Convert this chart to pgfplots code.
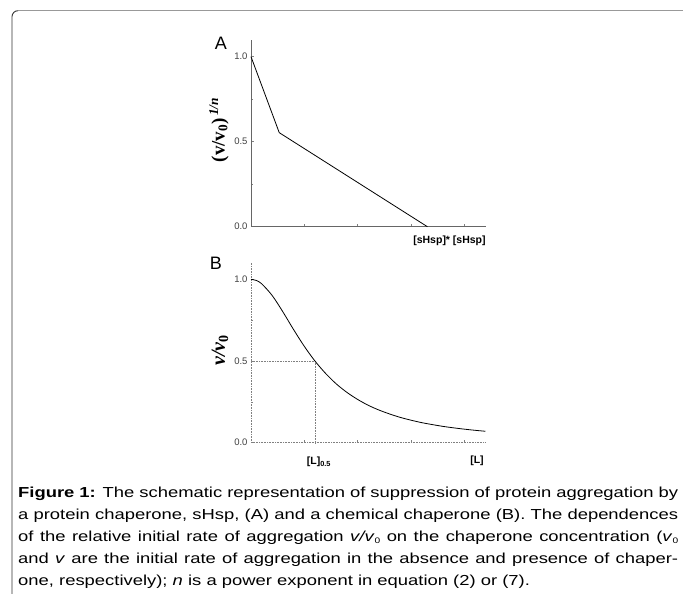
\documentclass[border=0pt]{standalone}
\usepackage{pgfplots}
\pgfplotsset{compat=1.18}
\usepackage{fontspec}
\setmainfont{Liberation Sans}
\newfontfamily\serifbf{Liberation Serif}
\newcommand\capline[1]{\scalebox{1.27}[1]{\makebox[519.7pt][s]{#1}}}
\newcommand\capfont{\fontsize{14.5}{14.5}\selectfont}
\newcommand\capsub[1]{\raisebox{-0.3ex}{\fontsize{8}{8}\selectfont #1}}

\pgfplotsset{panel/.style={
    anchor=south west, scale only axis, width=235pt,
    xmin=0, xmax=4.41, ymin=0, clip=false,
    axis lines=left,
    xtick={1,2,3,4}, xticklabels={},
    ytick={0,0.5,1}, minor ytick={0.25,0.75},
    yticklabel style={font=\fontsize{9.5}{9.5}\selectfont, text=black!75,
      /pgf/number format/fixed, /pgf/number format/precision=1,
      /pgf/number format/fixed zerofill, /pgf/number format/assume math mode=true},
    tick style={gray, line width=0.4pt}, tick align=inside,
    major tick length=3pt, minor tick length=2pt}}

\begin{document}
\begin{tikzpicture}[x=1pt,y=1pt]
\path[use as bounding box, fill=white] (0,0) rectangle (683,594);
\draw[gray!80, line width=1.4pt] (18,583.3) -- (683,583.3);
\draw[black!80, line width=0.9pt] (18,583.3) arc[start angle=90, end angle=180, radius=6] -- (12,0);

% panel A
\begin{axis}[panel, at={(251pt,367.3pt)}, height=186.7pt, ymax=1.098,
    axis line style={-, gray!80!black, line width=0.6pt}]
  \addplot[black, line width=0.8pt] coordinates {(0,1) (0.53,0.553) (3.31,0)};
\end{axis}
\node[font=\fontsize{18}{18}\selectfont] at (221,551) {A};
\node[rotate=90] at (219,464) {\serifbf\bfseries\fontsize{19}{19}\selectfont (v/v\textsubscript{0})\textsuperscript{\,\textit{1/n}}};
\node[font=\bfseries\fontsize{10.5}{10.5}\selectfont] at (449.5,353) {[sHsp]* [sHsp]};

% panel B
\begin{axis}[panel, at={(251pt,151.3pt)}, height=179.7pt, ymax=1.10,
    axis line style={-, gray, densely dotted, line width=0.6pt}]
  \addplot[gray, densely dotted, line width=0.6pt] coordinates {(0,0.5) (1.2,0.5) (1.2,0)};
  \addplot[black, line width=0.8pt, smooth] coordinates {
    (0,1) (0.1,0.993) (0.2,0.973) (0.4,0.9) (0.6,0.8) (0.8,0.692) (1.0,0.59)
    (1.2,0.5) (1.4,0.424) (1.6,0.36) (1.8,0.308) (2.0,0.265) (2.2,0.229)
    (2.4,0.2) (2.6,0.176) (2.8,0.155) (3.0,0.138) (3.2,0.123) (3.4,0.111)
    (3.6,0.1) (3.8,0.091) (4.0,0.083) (4.2,0.076) (4.4,0.07)};
\end{axis}
\node[font=\fontsize{18}{18}\selectfont] at (216,331) {B};
\node[rotate=90] at (220,244) {\serifbf\bfseries\fontsize{20}{20}\selectfont \textit{v/v}\textsubscript{0}};
\node[font=\bfseries\fontsize{10.5}{10.5}\selectfont] at (319,132) {[L]\textsubscript{0.5}};
\node[font=\bfseries\fontsize{10.5}{10.5}\selectfont] at (477,133) {[L]};

% caption
\begin{scope}[every node/.style={anchor=base west, inner sep=0pt, font=\capfont}]
\node at (18,96.7) {\capline{\textbf{Figure 1:} The schematic representation of suppression of protein aggregation by}};
\node at (18,74.5) {\capline{a protein chaperone, sHsp, (A) and a chemical chaperone (B). The dependences}};
\node at (18,52.3) {\capline{of the relative initial rate of aggregation \textit{v/v}\capsub{0} on the chaperone concentration (\textit{v}\capsub{0}}};
\node at (18,30.1) {\capline{and \textit{v} are the initial rate of aggregation in the absence and presence of chaper-}};
\node at (18,8) {\scalebox{1.27}[1]{one, respectively); \textit{n} is a power exponent in equation (2) or (7).}};
\end{scope}
\end{tikzpicture}
\end{document}
